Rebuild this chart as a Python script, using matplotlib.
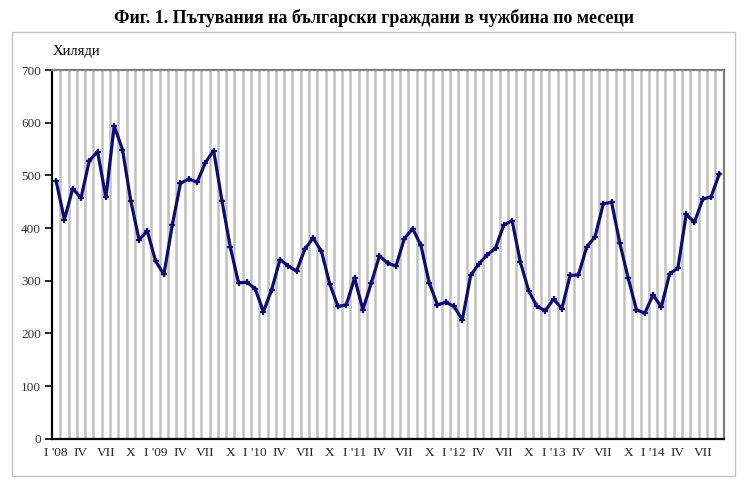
import numpy as np
import matplotlib
matplotlib.use("Agg")
import matplotlib.pyplot as plt
from matplotlib.patches import Rectangle

plt.rcParams['font.family'] = ['Liberation Serif', 'DejaVu Serif']

# monthly trips abroad, thousands, Jan 2008 - Sep 2014
trips = [489, 416, 475, 457, 528, 545, 458, 594, 549, 452, 378, 394,
         337, 312, 405, 485, 493, 487, 524, 547, 452, 364, 296, 297,
         285, 241, 283, 340, 328, 318, 360, 381, 356, 294, 251, 254,
         305, 245, 295, 347, 333, 328, 380, 399, 367, 296, 254, 259,
         251, 226, 310, 332, 349, 362, 406, 414, 335, 281, 251, 243,
         265, 247, 310, 311, 364, 383, 446, 449, 371, 305, 245, 238,
         273, 250, 313, 324, 426, 411, 455, 459, 503]
years = ['08', '09', '10', '11', '12', '13', '14']
quarter_names = ['IV', 'VII', 'X']

tick_labels = []
for yr in years:
    tick_labels.append("I '" + yr)
    tick_labels.extend(quarter_names)
tick_labels = tick_labels[:len(range(0, len(trips), 3))]

x = np.arange(len(trips))

fig = plt.figure(figsize=(7.48, 4.98), dpi=100)
ax = fig.add_axes([52 / 748, 1 - 438.7 / 498, (723.5 - 52) / 748, (438.7 - 70) / 498])

# outer chart frame
fig.patches.append(Rectangle((12 / 748, 1 - 476 / 498), (735 - 12) / 748, (476 - 32) / 498,
                             transform=fig.transFigure, fill=False, edgecolor='#c4c4c4', lw=1))

for b in np.arange(0.5, len(trips) - 1, 1):
    ax.axvline(b, color='#c0c0c0', lw=1.8, zorder=1)

ax.plot(x, trips, color='#0c0c70', lw=2.3, marker='+', ms=5, mew=1.6, zorder=3)

ax.set_xlim(-0.5, len(trips) - 0.5)
ax.set_ylim(0, 700)
ax.set_yticks(range(0, 701, 100))
ax.set_xticks(x[::3])
ax.set_xticklabels(tick_labels)
ax.tick_params(axis='x', length=0, pad=6, labelsize=9.5, labelcolor='#222222')
ax.tick_params(axis='y', length=5, width=1.2, direction='out', pad=3, labelsize=9.5, labelcolor='#333333')

for side in ['left', 'bottom']:
    ax.spines[side].set_color('black')
    ax.spines[side].set_linewidth(1.6)
for side in ['top', 'right']:
    ax.spines[side].set_color('#808080')
    ax.spines[side].set_linewidth(1.6)

fig.text(53 / 748, 1 - 52 / 498, 'Хиляди', fontsize=10.5, va='center', ha='left')
fig.text(374 / 748, 1 - 18 / 498, 'Фиг. 1. Пътувания на български граждани в чужбина по месеци',
         fontsize=13, fontweight='bold', ha='center', va='center')

fig.savefig('out.png', dpi=100)
